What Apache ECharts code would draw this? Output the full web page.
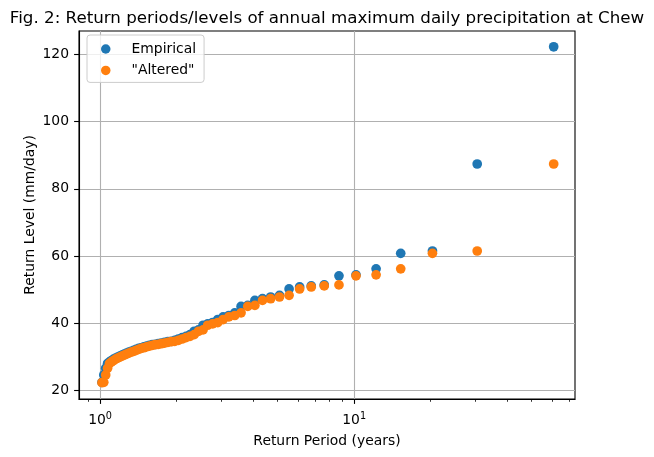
<!DOCTYPE html>
<html><head><meta charset="utf-8">
<script src="https://cdn.jsdelivr.net/npm/echarts@6/dist/echarts.min.js"></script>
<style>html,body{margin:0;padding:0;background:#fff}#c{width:654px;height:457px}</style>
</head><body><div id="c"></div>
<script>
// Return periods (years), rank-based plotting positions
const returnPeriods = [61.00, 30.50, 20.33, 15.25, 12.20, 10.17, 8.714, 7.625, 6.778, 6.100,
  5.545, 5.083, 4.692, 4.357, 4.067, 3.813, 3.588, 3.389, 3.211, 3.050,
  2.905, 2.773, 2.652, 2.542, 2.440, 2.346, 2.259, 2.179, 2.103, 2.033,
  1.968, 1.906, 1.848, 1.794, 1.743, 1.694, 1.649, 1.605, 1.564, 1.525,
  1.488, 1.452, 1.419, 1.386, 1.356, 1.326, 1.298, 1.271, 1.245, 1.220,
  1.196, 1.173, 1.151, 1.130, 1.109, 1.089, 1.070, 1.052, 1.034, 1.017];
// Return levels (mm/day)
const empirical = [122.3, 87.4, 61.5, 60.8, 56.2, 54.4, 54.1, 51.4, 51.1, 50.8,
  50.2, 48.3, 47.8, 47.3, 46.8, 45.3, 45.0, 43.1, 42.3, 41.9,
  41.1, 40.2, 39.8, 39.4, 38.0, 37.6, 36.6, 36.1, 35.7, 35.3,
  34.9, 34.6, 34.5, 34.3, 34.1, 33.9, 33.7, 33.6, 33.4, 33.2,
  33.0, 32.7, 32.5, 32.2, 31.9, 31.6, 31.4, 31.1, 30.8, 30.5,
  30.2, 29.9, 29.6, 29.3, 28.9, 28.5, 28.0, 26.6, 24.6, 22.4];
const altered = [87.4, 61.5, 60.8, 56.2, 54.4, 54.1, 51.4, 51.1, 50.8, 50.2,
  48.3, 47.8, 47.3, 46.8, 45.3, 45.0, 43.1, 42.3, 41.9, 41.1,
  40.2, 39.8, 39.4, 38.0, 37.6, 36.6, 36.1, 35.7, 35.3, 34.9,
  34.6, 34.5, 34.3, 34.1, 33.9, 33.7, 33.6, 33.4, 33.2, 33.0,
  32.7, 32.5, 32.2, 31.9, 31.6, 31.4, 31.1, 30.8, 30.5, 30.2,
  29.9, 29.6, 29.3, 28.9, 28.5, 28.0, 26.6, 24.6, 22.4, 22.3];
const seriesNames = ['Empirical', '"Altered"'];
const xMajorTicks = [1, 10];
const xMinorTicks = [0.9, 2, 3, 4, 5, 6, 7, 8, 9, 20, 30, 40, 50, 60, 70];
const yTicks = [20, 40, 60, 80, 100, 120];
const titleText = 'Fig. 2: Return periods/levels of annual maximum daily precipitation at Chew';
const xName = 'Return Period (years)';
const yName = 'Return Level (mm/day)';

const FONT = 'DejaVu Sans';
const XMIN = 0.826, XMAX = 74.0;
const LXMIN = Math.log10(XMIN), LXMAX = Math.log10(XMAX);
const BLACK = '#000000', GRID = '#b0b0b0';

const chart = echarts.init(document.getElementById('c'), null, {renderer: 'canvas', width: 654, height: 457});
const option = {
  animation: false,
  backgroundColor: '#ffffff',
  textStyle: {fontFamily: FONT},
  title: {
    text: titleText, left: 'center', top: 10, padding: 0,
    textStyle: {fontFamily: FONT, fontSize: 16.7, fontWeight: 'normal', color: BLACK}
  },
  legend: {
    data: seriesNames, orient: 'vertical', left: 87, top: 35,
    padding: [6, 8, 4, 14], itemWidth: 9.5, itemHeight: 9.5, itemGap: 5.4, icon: 'circle',
    backgroundColor: 'rgba(255,255,255,0.8)', borderColor: '#cccccc', borderWidth: 1, borderRadius: 3,
    textStyle: {fontFamily: FONT, fontSize: 13.9, color: BLACK, lineHeight: 16, padding: [0, 0, 0, 16]}
  },
  grid: {left: 79, top: 31, width: 496, height: 368, show: true, borderColor: BLACK, borderWidth: 1.1, backgroundColor: 'transparent', containLabel: false},
  xAxis: [
    {type: 'log', logBase: 10, min: XMIN, max: XMAX, show: false},
    {
      type: 'value', min: LXMIN, max: LXMAX, position: 'bottom',
      axisLine: {show: true, onZero: false, lineStyle: {color: BLACK, width: 1.1}},
      axisTick: {show: true, length: 4.9, lineStyle: {color: BLACK, width: 1.1}, customValues: xMajorTicks.map(Math.log10)},
      axisLabel: {
        customValues: xMajorTicks.map(Math.log10), margin: 12,
        formatter: v => '{b|10}{s|' + Math.round(v) + '}',
        rich: {
          b: {fontFamily: FONT, fontSize: 13.9, color: BLACK},
          s: {fontFamily: FONT, fontSize: 9.7, color: BLACK, padding: [0, 0, 9, 0]}
        }
      },
      splitLine: {show: true, lineStyle: {color: GRID, width: 1.1}},
      name: xName, nameLocation: 'middle', nameGap: 35.5,
      nameTextStyle: {fontFamily: FONT, fontSize: 13.9, color: BLACK}
    },
    {
      type: 'value', min: LXMIN, max: LXMAX, position: 'bottom',
      axisLine: {show: false},
      axisTick: {show: true, length: 2.8, lineStyle: {color: BLACK, width: 0.8}, customValues: xMinorTicks.map(Math.log10)},
      axisLabel: {show: false}, splitLine: {show: false}
    }
  ],
  yAxis: {
    type: 'value', min: 17.44, max: 127.0,
    axisLine: {show: true, onZero: false, lineStyle: {color: BLACK, width: 1.1}},
    axisTick: {show: true, length: 4.9, lineStyle: {color: BLACK, width: 1.1}, customValues: yTicks},
    axisLabel: {customValues: yTicks, margin: 10, fontFamily: FONT, fontSize: 13.9, color: BLACK},
    splitLine: {show: true, lineStyle: {color: GRID, width: 1.1}},
    name: yName, nameLocation: 'middle', nameGap: 42, nameRotate: 90, nameMoveOverlap: false,
    nameTextStyle: {fontFamily: FONT, fontSize: 13.9, color: BLACK}
  },
  series: [
    {
      name: seriesNames[0], type: 'scatter', xAxisIndex: 0, symbol: 'circle', symbolSize: 9.7,
      itemStyle: {color: '#1f77b4', opacity: 1},
      data: returnPeriods.map((t, i) => [t, empirical[i]])
    },
    {
      name: seriesNames[1], type: 'scatter', xAxisIndex: 0, symbol: 'circle', symbolSize: 9.7,
      itemStyle: {color: '#ff7f0e', opacity: 1},
      data: returnPeriods.map((t, i) => [t, altered[i]])
    }
  ]
};
chart.setOption(option);
</script>
</body></html>
